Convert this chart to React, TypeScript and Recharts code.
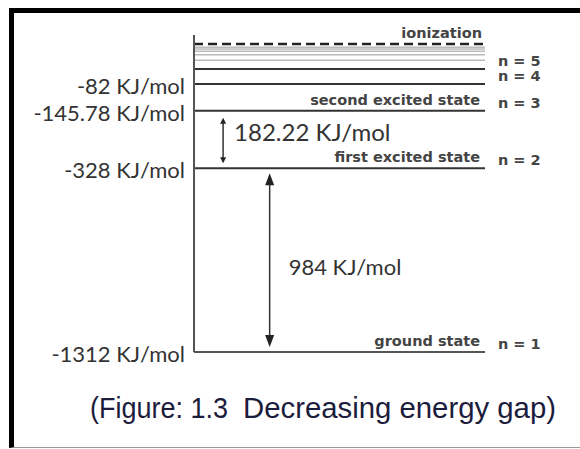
import React from 'react'
import { LineChart, XAxis, YAxis, ReferenceLine } from 'recharts'

// energy levels of the hydrogen atom, KJ/mol
const levelNames = ['n = 1', 'n = 2', 'n = 3', 'n = 4', 'n = 5']
const levelEnergies = [-1312, -328, -145.78, -82, -52.48]
const levelStates = ['ground state', 'first excited state', 'second excited state', '', '']
const higherEnergies = [-36.44, -26.78, -20.5, -16.2, -13.12]
const ionizationEnergy = 0
const tickEnergies = [-1312, -328, -145.78, -82]
// [lower, upper] pairs for the gap arrows
const gapPairs = [
  [-328, -145.78],
  [-1312, -328],
]

// schematic (non-linear) energy axis: energy -> share of axis height
const knots = [
  [-1312, 0],
  [-328, 0.5795],
  [-145.78, 0.7612],
  [-82, 0.8454],
  [-52.48, 0.8927],
  [-13.12, 0.9612],
  [0, 0.9716],
  [20, 1],
]

function levelScale(k: number[][]): any {
  let dom = [k[0][0], k[k.length - 1][0]]
  let rng = [0, 1]
  const frac = (v: number) => {
    if (v <= k[0][0]) return k[0][1]
    for (let i = 1; i < k.length; i++) {
      const [e0, f0] = k[i - 1]
      const [e1, f1] = k[i]
      if (v <= e1) return f0 + ((v - e0) / (e1 - e0)) * (f1 - f0)
    }
    return k[k.length - 1][1]
  }
  const scale: any = (v: number) => rng[0] + frac(v) * (rng[1] - rng[0])
  scale.domain = (d?: number[]) => {
    if (!d) return dom.slice()
    dom = d.slice()
    return scale
  }
  scale.range = (r?: number[]) => {
    if (!r) return rng.slice()
    rng = r.slice()
    return scale
  }
  scale.copy = () => levelScale(k).domain(dom).range(rng)
  scale.ticks = () => k.map((p) => p[0])
  scale.tickFormat = () => (v: number) => String(v)
  return scale
}

const yScale = levelScale(knots)

const smallFont = 'DejaVu Sans, Verdana, sans-serif'
const bodyFont = 'Lato, Calibri, sans-serif'

const EnergyTick = ({ x, y, payload }: any) => (
  <text x={x} y={y} dy={10} textAnchor="end" fontFamily={bodyFont} fontSize={22} fill="#333">
    {`${payload.value} KJ/mol`}
  </text>
)

const levelLabel = (name: string, state: string) => (props: any) => {
  const vb = props.viewBox
  const right = vb.x + vb.width
  return (
    <g fontFamily={smallFont} fontSize={14.5} fontWeight="bold" fill="#444">
      {state && (
        <text x={right - 5} y={vb.y - 6} textAnchor="end">
          {state}
        </text>
      )}
      <text x={right + 13} y={vb.y - 3}>
        {name}
      </text>
    </g>
  )
}

const ionLabel = (props: any) => {
  const vb = props.viewBox
  return (
    <text x={vb.x + vb.width - 3} y={vb.y - 6} textAnchor="end" fontFamily={smallFont} fontSize={14.5} fontWeight="bold" fill="#444">
      ionization
    </text>
  )
}

const gapLabel = (value: number, dx: number, dy: number, size: number) => (props: any) => {
  const vb = props.viewBox
  return (
    <text x={vb.x + dx} y={vb.y + vb.height / 2 + dy} fontFamily={bodyFont} fontSize={size} fill="#333">
      {`${value} KJ/mol`}
    </text>
  )
}

const Arrow = (big: boolean) => (props: any) => {
  const { x1, y1, y2 } = props
  const top = Math.min(y1, y2) + (big ? 5 : 7)
  const bottom = Math.max(y1, y2) - 5
  const hw = big ? 4.5 : 3
  const hl = big ? 12 : 6
  return (
    <g>
      <line x1={x1} x2={x1} y1={top + hl / 2} y2={bottom - hl / 2} stroke="#333" strokeWidth={1.5} />
      <path d={`M${x1},${top} L${x1 - hw},${top + hl} L${x1 + hw},${top + hl} Z`} fill="#222" />
      <path d={`M${x1},${bottom} L${x1 - hw},${bottom - hl} L${x1 + hw},${bottom - hl} Z`} fill="#222" />
    </g>
  )
}

const arrowX = [10, 26]

export default function App() {
  return (
    <div style={{ position: 'absolute', left: 0, top: 0, width: 580, height: 449, overflow: 'hidden', background: '#fff' }}>
      <div
        style={{
          position: 'absolute',
          left: 9,
          top: 8,
          width: 620,
          height: 434,
          borderTop: '5px solid #000',
          borderLeft: '5px solid #000',
          borderBottom: '1px solid #999',
        }}
      />
      <div style={{ position: 'absolute', left: 0, top: 0 }}>
        <LineChart width={580} height={449} margin={{ top: 35, right: 95, bottom: 97, left: 0 }}>
          <XAxis type="number" dataKey="x" domain={[0, 100]} allowDataOverflow hide />
          <YAxis
            type="number"
            scale={yScale}
            domain={[-1312, 20]}
            allowDataOverflow
            ticks={tickEnergies}
            width={194}
            tickLine={false}
            tickSize={0}
            tickMargin={9}
            axisLine={{ stroke: '#555', strokeWidth: 2 }}
            tick={<EnergyTick />}
            interval={0}
          />
          {higherEnergies.map((e) => (
            <ReferenceLine key={e} y={e} stroke="#bbb" strokeWidth={1.5} />
          ))}
          <ReferenceLine y={ionizationEnergy} stroke="#222" strokeWidth={2.5} strokeDasharray="9 5" label={ionLabel} />
          {levelEnergies.map((e, i) => (
            <ReferenceLine
              key={e}
              y={e}
              stroke={i === 0 ? '#555' : '#333'}
              strokeWidth={2}
              label={levelLabel(levelNames[i], levelStates[i])}
            />
          ))}
          {gapPairs.map(([lo, hi], i) => (
            <ReferenceLine
              key={i}
              segment={[
                { x: arrowX[i], y: hi },
                { x: arrowX[i], y: lo },
              ]}
              shape={Arrow(i === 1)}
              label={
                i === 0
                  ? gapLabel(Number((hi - lo).toFixed(2)), 11, 2, 24)
                  : gapLabel(Number((hi - lo).toFixed(2)), 19, 15, 22)
              }
            />
          ))}
        </LineChart>
      </div>
      <svg width={580} height={449} style={{ position: 'absolute', left: 0, top: 0 }}>
        <g fontFamily="Liberation Sans, Arial, sans-serif" fontSize={29} fill="#1c1c3c">
          <text x={90} y={418} textLength={138} lengthAdjust="spacingAndGlyphs">
            (Figure: 1.3
          </text>
          <text x={243} y={418} textLength={313} lengthAdjust="spacingAndGlyphs">
            Decreasing energy gap)
          </text>
        </g>
      </svg>
    </div>
  )
}
